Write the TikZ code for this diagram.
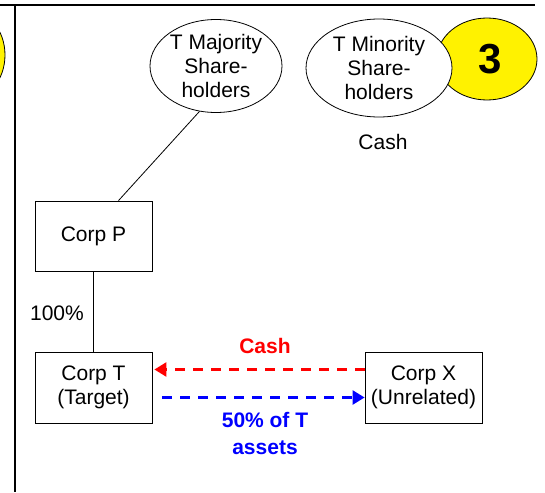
\documentclass[tikz,border=0pt]{standalone}
\usepackage{fontspec}
\setmainfont{Liberation Sans}
\usepackage{tikz}
\usetikzlibrary{positioning}
\usetikzlibrary{shapes.geometric}
\usetikzlibrary{arrows.meta}

\tikzset{
	corpbox/.style = {draw, thick, minimum width = 117pt, minimum height = 71pt, align = center, inner sep = 0pt},
	holders/.style = {draw, thick, ellipse, fill = white, align = center, inner sep = 0pt},
	flow/.style = {line width = 2.4pt, dash pattern = on 10pt off 8pt},
}

\begin{document}
\begin{tikzpicture}[x = 1pt, y = -1pt, font = \fontsize{21}{24}\selectfont]
			\useasboundingbox (0, 0) rectangle (545, 492);
			\draw[line width = 2.5pt] (0, 5) -- (535, 5);
			\draw[line width = 2.5pt] (15, 5) -- (15, 492);
			\draw[thick, fill = yellow] (-32, 55) ellipse (37 and 45); %next panel

			\node[draw, thick, ellipse, fill = yellow, minimum width = 100pt, minimum height = 82pt] (step) at (487, 59) {};
			\node[font = \fontsize{42}{42}\selectfont\bfseries] at (490, 59) {3};
			\node[holders, minimum width = 132pt, minimum height = 93pt] (major) at (216, 66) {T Majority\\Share-\\holders};
			\node[holders, minimum width = 146pt, minimum height = 98pt] (minor) at (379, 68) {T Minority\\Share-\\holders};
			\node (minorcash) at (383, 142) {Cash};

			\node[corpbox, minimum height = 70pt] (corpp) at (93.5, 236) {Corp P};
			\node[corpbox] (corpt) at (93.5, 387.5) {Corp T\\(Target)};
			\node[corpbox] (corpx) at (423.5, 387.5) {Corp X\\(Unrelated)};
			\node (pct) at (57, 313) {100\%};

			\draw[thick] (major.250) -- ([xshift = 25pt]corpp.north);
			\draw[thick] (corpp.south) -- (corpt.north);

			\draw[flow, red, -{Triangle[length = 12pt, width = 14pt]}] ([yshift = 18pt]corpx.west) -- ([xshift = 2pt, yshift = 18pt]corpt.east);
			\draw[flow, blue, -{Triangle[length = 12pt, width = 14pt]}] ([xshift = 10pt, yshift = -10pt]corpt.east) -- ([yshift = -10pt]corpx.west);
			\node[red, font = \fontsize{21}{24}\selectfont\bfseries] (cashlabel) at (265, 346) {Cash};
			\node[blue, align = center, font = \fontsize{21}{27}\selectfont\bfseries] (assetlabel) at (265, 433) {50\% of T\\assets};
        \end{tikzpicture}
\end{document}
